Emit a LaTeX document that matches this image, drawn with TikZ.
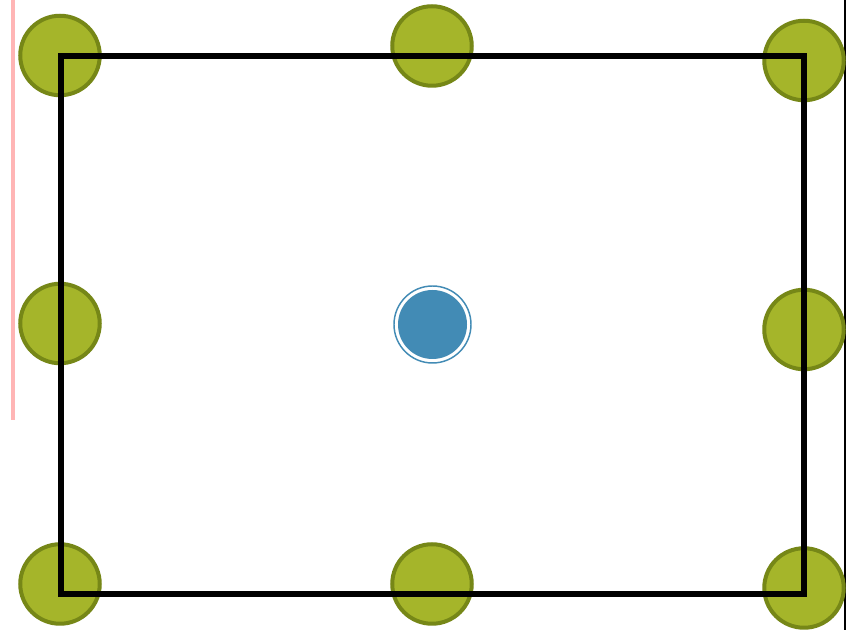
\documentclass[tikz,border=0pt]{standalone}
\begin{document}
\begin{tikzpicture}[x=0.75pt,y=-0.75pt,
  greendot/.style={circle,draw=green!45!black!60!yellow,fill=olivefill,line width=3pt,minimum size=79.5*0.75pt,inner sep=0pt},
  bluedot/.style={circle,fill=bluefill,minimum size=69*0.75pt,inner sep=0pt},
  bluering/.style={circle,draw=bluefill,line width=1.1pt,minimum size=77*0.75pt,inner sep=0pt},
  frame/.style={line width=4.5pt,line join=miter}]
\definecolor{olivefill}{HTML}{A5B52A}
\definecolor{olivedraw}{HTML}{768717}
\definecolor{bluefill}{HTML}{428BB5}
\definecolor{pinkline}{HTML}{FFB5B5}
\tikzset{greendot/.append style={draw=olivedraw}}
\useasboundingbox (0,0) rectangle (851,630);
\fill[white] (0,0) rectangle (851,630);
\draw[pinkline,line width=3pt] (13,0) coordinate (p1) -- (13,420) coordinate (p2);
\draw[black,line width=1.8pt] (845,0) coordinate (b1) -- (845,630) coordinate (b2);
\node[greendot] (tl) at (60,55.5) {};
\node[greendot] (tm) at (432,46) {};
\node[greendot] (tr) at (804,60.5) {};
\node[greendot] (ml) at (60,323.5) {};
\node[greendot] (mr) at (804,329.5) {};
\node[greendot] (bl) at (60,584) {};
\node[greendot] (bm) at (432,584) {};
\node[greendot] (br) at (804,588) {};
\node[bluering] (cr) at (432.5,324.5) {};
\node[bluedot] (c) at (432.5,324.5) {};
\coordinate (r1) at (60.5,56.3);
\coordinate (r2) at (803.7,56.3);
\coordinate (r3) at (803.7,593.7);
\coordinate (r4) at (60.5,593.7);
\draw[frame] (r1) -- (r2) -- (r3) -- (r4) -- cycle;
\end{tikzpicture}
\end{document}
